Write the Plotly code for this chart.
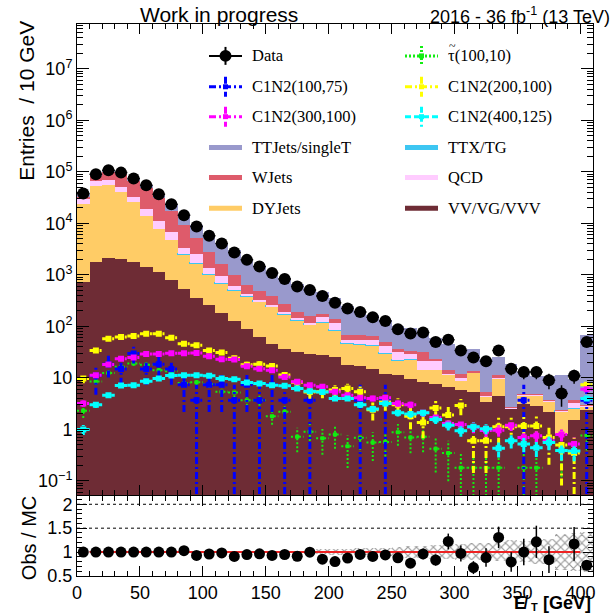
import numpy as np
import plotly.graph_objects as go

# ---------------------------------------------------------------- binning
met_centers = list(range(5, 410, 10))          # 10 GeV bins, 0-410 GeV
bin_half = 5

# ---------------------------------------------------------------- observed data
data_obs = [37800, 89500, 107000, 96600, 73900, 54800, 36700, 23500, 14400, 8710,
            5730, 4050, 2710, 1955, 1450, 1089, 833, 597, 506, 390,
            289, 222, 191, 151, 127, 88, 73, 76, 50, 55,
            34, 25, 21, 34, 15, 13, 13, 9, 5, 11, 50]

# ---------------------------------------------------------------- background yields per process
bkg_vv = [718, 1750, 2120, 2030, 1750, 1442, 1122, 797, 534, 352,
          262, 183, 130, 90, 62, 46, 36.9, 31.8, 29.5, 27.4,
          25.4, 17.5, 17.0, 14.7, 12.1, 11.2, 9.5, 8.5, 7.5, 6.6,
          5.8, 5.3, 3.4, 4.5, 2.5, 3.1, 2.8, 2.2, 0.8, 1.5, 2.4]
bkg_dy = [22800, 51400, 53500, 38700, 23700, 12560, 6610, 3900, 1900, 1274,
          734, 484, 365, 290, 238, 194, 133, 98, 77.5, 90.6,
          57.6, 27.5, 27, 27.3, 16.9, 9.8, 12.5, 5.5, 6.5, 4.6,
          2.8, 7.0, 1.0, 4.9, 0.05, 1.5, 1.8, 1.3, 1.4, 1.0, 0.3]
bkg_ttx = [50, 100, 120, 130, 130, 120, 110, 90, 60, 44,
           34, 23, 15, 10, 8, 6, 4, 4, 3, 4,
           3, 2, 2, 2, 1.5, 1, 1, 0.5, 0.5, 0.3,
           0.2, 0.2, 0.05, 0.2, 0.05, 0.05, 0.05, 0.05, 0.05, 0.05, 0.1]
bkg_qcd = [5850, 13200, 12780, 9970, 7570, 4680, 3360, 2060, 780, 870,
           310, 249, 109, 37, 17, 12, 18, 14, 4, 28,
           28, 7, 9, 11, 10.5, 10, 6.5, 6.5, 6.5, 0.3,
           1.2, 0.3, 0.05, 0.4, 0.05, 0.05, 0.05, 0.05, 0.05, 0.65, 0.1]
bkg_wjets = [3700, 18600, 33500, 40200, 34900, 29700, 19800, 10650, 6000, 2660,
             1470, 687, 377, 223, 170, 132, 76, 41, 46, 22,
             26, 13, 13, 9, 9, 4, 4.5, 11, 2, 2.2,
             2.1, 0.7, 0.9, 1.2, 0.05, 0.1, 0.1, 0.1, 0.1, 0.5, 0.1]
bkg_tt = [4700, 4500, 5000, 5600, 5900, 6300, 5700, 6000, 4700, 4170,
          3160, 2499, 1984, 1414, 1010, 781, 609, 465, 347, 286,
          220, 187, 133, 102, 85, 64, 61, 47, 37, 31,
          22.9, 23.5, 18.3, 14.8, 16.2, 8.2, 5.9, 7.0, 8.8, 5.7, 66]

# relative MC statistical uncertainty (hatched band in the ratio)
mc_rel_unc = [0.01] * 8 + [0.015] * 5 + [0.02] * 5 + [
    0.04, 0.05, 0.06, 0.06, 0.07, 0.07, 0.08, 0.10, 0.12, 0.13, 0.14, 0.15,
    0.17, 0.18, 0.18, 0.20, 0.24, 0.22, 0.25, 0.26, 0.38, 0.40, 0.42]

# ---------------------------------------------------------------- signal yields
sig_stau_100_10 = [2.3, 8.5, 12.5, 16.5, 19, 18, 14, 13.4, 8, 8.2,
                   7.6, 5.4, 5.2, 3.7, 3.7, 1.8, 2.2, 0.72, 0.9, 0.67,
                   0.8, 0.47, 0.69, 0.56, 0.57, 0.88, 0.7, 0.72, 0.42, 0.35,
                   0.18, 0.18, 0.18, 0.18, 0, 0.18, 0.18, 0, 0.38, 0, 0.76]
sig_c1n2_100_75 = [0, 11.1, 18.5, 14.8, 29.6, 14.8, 18.5, 14.8, 7.4, 3.7,
                   7.4, 7.4, 3.7, 7.4, 3.7, 7.4, 3.7, 0, 3.7, 0,
                   0, 0, 3.7, 0, 3.7, 0, 0, 0, 0, 0,
                   0, 0, 0, 0, 0, 3.7, 0, 0, 0, 0, 3.7]
sig_c1n2_200_100 = [9.7, 34, 57.5, 62, 65, 72, 72, 60, 46, 43,
                    34, 31, 24, 18, 18.5, 17, 11.4, 8.2, 5.3, 5.4,
                    5.8, 6.2, 5.4, 2.4, 3.4, 3.0, 1.8, 1.36, 2.6, 1.9,
                    2.9, 0.6, 0.6, 1.13, 1.13, 1.16, 1.17, 0.7, 0.5, 0.35, 7.4]
sig_c1n2_300_100 = [3.2, 11.2, 18.2, 23.6, 25, 29, 29, 30, 30, 30.4,
                    26.3, 23, 22.8, 16.8, 15, 14, 10.4, 8.4, 7.2, 6.7,
                    5.4, 4.6, 4.1, 4.0, 4.1, 3.2, 3.0, 2.1, 1.7, 1.3,
                    1.25, 1.1, 0.95, 0.96, 1.2, 0.7, 0.75, 0.6, 0.8, 0.52, 6.0]
sig_c1n2_400_125 = [1.0, 3.0, 4.6, 7.1, 7.2, 8.6, 9.7, 11.1, 11.2, 11.2,
                    11.0, 9.7, 9.4, 8.1, 7.8, 7.2, 7.0, 6.2, 5.5, 5.3,
                    4.0, 4.0, 3.0, 2.5, 3.2, 2.1, 2.0, 2.1, 1.55, 1.2,
                    0.94, 1.13, 1.03, 0.43, 0.6, 0.52, 0.44, 0.56, 0.39, 0.38, 4.0]

# per-event weight of each signal sample (for the MC statistical error)
sig_event_weight = {"stau": 0.18, "c1n2_100_75": 3.7, "c1n2_200_100": 0.35,
                    "c1n2_300_100": 0.06, "c1n2_400_125": 0.05}

# ---------------------------------------------------------------- colours
COL_VV, COL_DY, COL_TTX = "#6E2C35", "#FFCC66", "#3DC6F2"
COL_QCD, COL_WJ, COL_TT = "#FFCCFF", "#DE5B6B", "#9999CC"
COL_STAU, COL_BLUE, COL_YEL = "#11EE11", "#0000FF", "#FFFF00"
COL_MAG, COL_CYAN = "#FF00FF", "#00FFFF"

SANS = "Liberation Sans, Arial, Helvetica, sans-serif"
SERIF = "Liberation Serif, Times New Roman, serif"

fig = go.Figure()

# ---------------------------------------------------------------- stacked backgrounds
stack = [(bkg_vv, COL_VV), (bkg_dy, COL_DY), (bkg_ttx, COL_TTX),
         (bkg_qcd, COL_QCD), (bkg_wjets, COL_WJ), (bkg_tt, COL_TT)]
for vals, col in stack:
    line = dict(width=1, color=col) if col == COL_TTX else dict(width=0)
    fig.add_trace(go.Bar(x=met_centers, y=vals, width=2 * bin_half,
                         marker=dict(color=col, line=line),
                         xaxis="x", yaxis="y", hoverinfo="skip"))

# ---------------------------------------------------------------- signal points with error crosses
def error_crosses(vals, w):
    xs, ys = [], []
    for c, v in zip(met_centers, vals):
        if v <= 0:
            continue
        e = np.sqrt(v * w)
        lo = max(v - e, 1e-3)
        xs += [c - bin_half, c + bin_half, None, c, c, None]
        ys += [v, v, None, lo, v + e, None]
    return xs, ys

DASHDOT = "7px,3px,2px,3px"
signals = [
    (sig_stau_100_10, "stau", COL_STAU, "2px,2px", 2, "square", 4),
    (sig_c1n2_100_75, "c1n2_100_75", COL_BLUE, DASHDOT, 3, "square", 6),
    (sig_c1n2_200_100, "c1n2_200_100", COL_YEL, DASHDOT, 3, "square", 6),
    (sig_c1n2_300_100, "c1n2_300_100", COL_MAG, DASHDOT, 3, "square", 6),
    (sig_c1n2_400_125, "c1n2_400_125", COL_CYAN, "6px,3px", 3, "square", 6),
]
for vals, key, col, dash, lw, sym, msize in signals:
    xs, ys = error_crosses(vals, sig_event_weight[key])
    fig.add_trace(go.Scatter(x=xs, y=ys, mode="lines", connectgaps=False,
                             line=dict(color=col, width=lw, dash=dash),
                             xaxis="x", yaxis="y", hoverinfo="skip"))
    px_ = [c for c, v in zip(met_centers, vals) if v > 0]
    py_ = [v for v in vals if v > 0]
    fig.add_trace(go.Scatter(x=px_, y=py_, mode="markers",
                             marker=dict(symbol=sym, size=msize, color=col),
                             xaxis="x", yaxis="y", hoverinfo="skip"))

# ---------------------------------------------------------------- data
data_arr = np.array(data_obs, dtype=float)
fig.add_trace(go.Scatter(
    x=met_centers, y=data_obs, mode="markers",
    marker=dict(color="black", size=12),
    error_y=dict(type="data", array=np.sqrt(data_arr), color="black", thickness=1.5, width=0),
    error_x=dict(type="constant", value=bin_half, color="black", thickness=1.5, width=0),
    xaxis="x", yaxis="y", hoverinfo="skip"))

# ---------------------------------------------------------------- ratio panel
mc_total = sum(np.array(v, dtype=float) for v, _ in stack)
ratio = data_arr / mc_total
ratio_err = np.sqrt(data_arr) / mc_total
R_MIN, R_MAX = 0.5, 2.167
in_range = (ratio >= R_MIN) & (ratio <= R_MAX)

unc = np.array(mc_rel_unc)
fig.add_trace(go.Bar(x=met_centers, y=2 * unc, base=1 - unc, width=2 * bin_half,
                     marker=dict(color="rgba(0,0,0,0)", line=dict(width=0),
                                 pattern=dict(shape="x", fgcolor="#333333",
                                              bgcolor="rgba(0,0,0,0)", size=6, solidity=0.35)),
                     xaxis="x2", yaxis="y2", hoverinfo="skip"))
fig.add_trace(go.Scatter(x=[10, 400], y=[1, 1], mode="lines",
                         line=dict(color="#EE2222", width=2),
                         xaxis="x2", yaxis="y2", hoverinfo="skip"))
fig.add_trace(go.Scatter(
    x=[c for c, ok in zip(met_centers, in_range) if ok],
    y=ratio[in_range], mode="markers",
    marker=dict(color="black", size=11),
    error_y=dict(type="data", array=ratio_err[in_range], color="black", thickness=1.5, width=0),
    xaxis="x2", yaxis="y2", hoverinfo="skip"))

# ---------------------------------------------------------------- axes
L, R, T, B = 77, 20, 24, 37
W, H = 613, 615
PW, PH = W - L - R, H - T - B


def fx(px):
    return (px - L) / PW


def fy(py):
    return (H - B - py) / PH


log_major = [0.1, 1, 10, 1e2, 1e3, 1e4, 1e5, 1e6, 1e7]
log_text = ["10<sup>\u22121</sup>", "1", "10", "10<sup>2</sup>", "10<sup>3</sup>",
            "10<sup>4</sup>", "10<sup>5</sup>", "10<sup>6</sup>", "10<sup>7</sup>"]
log_minor = [k * 10.0 ** e for e in range(-2, 8) for k in range(2, 10)]

tickfont = dict(family=SANS, size=18, color="black")
frame = dict(showline=True, linecolor="black", linewidth=1, mirror="allticks",
             showgrid=False, zeroline=False, tickcolor="black")

fig.update_layout(
    width=W, height=H, margin=dict(l=L, r=R, t=T, b=B, pad=0),
    paper_bgcolor="white", plot_bgcolor="white",
    barmode="stack", bargap=0, showlegend=False,
    xaxis=dict(domain=[0, 1], anchor="y", range=[0, 410], tick0=0, dtick=50,
               ticks="inside", ticklen=10, showticklabels=False,
               minor=dict(ticks="inside", ticklen=5, dtick=10, tickcolor="black"),
               **frame),
    yaxis=dict(domain=[fy(497), 1], anchor="x", type="log", range=[-1.279, 7.870],
               tickmode="array", tickvals=log_major, ticktext=log_text,
               ticks="inside", ticklen=12, tickfont=tickfont,
               minor=dict(ticks="inside", ticklen=6, tickmode="array",
                          tickvals=log_minor, tickcolor="black"),
               **frame),
    xaxis2=dict(domain=[0, 1], anchor="y2", range=[0, 410], tick0=0, dtick=50,
                ticks="inside", ticklen=10, tickfont=tickfont,
                minor=dict(ticks="inside", ticklen=5, dtick=10, tickcolor="black"),
                **frame),
    yaxis2=dict(domain=[0, fy(498)], anchor="x2", range=[R_MIN, R_MAX],
                tickmode="array", tickvals=[0.5, 1, 1.5, 2], ticktext=["0.5", "1", "1.5", "2"],
                ticks="inside", ticklen=10, tickfont=tickfont,
                minor=dict(ticks="inside", ticklen=5, dtick=0.1, tickcolor="black"),
                **frame),
)

shapes = []
annotations = []

# dotted reference lines in the ratio panel
for lvl in (1.5, 2.0):
    shapes.append(dict(type="line", xref="x2", yref="y2", x0=0, x1=410, y0=lvl, y1=lvl,
                       line=dict(color="black", width=1, dash="dot"), layer="below"))


# ---------------------------------------------------------------- legend (two columns)
def seg(x0, y0, x1, y1, color, width, dash="solid"):
    shapes.append(dict(type="line", xref="paper", yref="paper",
                       x0=fx(x0), y0=fy(y0), x1=fx(x1), y1=fy(y1),
                       line=dict(color=color, width=width, dash=dash)))


def label(text, x, y, size=16.5, family=SERIF, xanchor="left", **kw):
    annotations.append(dict(text=text, xref="paper", yref="paper", x=fx(x), y=fy(y),
                            xanchor=xanchor, yanchor="middle", showarrow=False,
                            font=dict(family=family, size=size, color="black"), **kw))


rows = [56, 87, 117, 148, 178, 209]
cols = [(209, 242, 250), (405, 438, 446)]

legend_entries = [
    [("Data", "data", "black", None),
     ("C1N2(100,75)", "sig", COL_BLUE, DASHDOT),
     ("C1N2(300,100)", "sig", COL_MAG, DASHDOT),
     ("TTJets/singleT", "fill", COL_TT, None),
     ("WJets", "fill", COL_WJ, None),
     ("DYJets", "fill", COL_DY, None)],
    [("\u03c4(100,10)", "sig", COL_STAU, "2px,2px"),
     ("C1N2(200,100)", "sig", COL_YEL, DASHDOT),
     ("C1N2(400,125)", "sig", COL_CYAN, "6px,3px"),
     ("TTX/TG", "fill", COL_TTX, None),
     ("QCD", "fill", COL_QCD, None),
     ("VV/VG/VVV", "fill", COL_VV, None)],
]

for (x0, x1, xt), entries in zip(cols, legend_entries):
    xm = 0.5 * (x0 + x1)
    for y, (text, kind, col, dash) in zip(rows, entries):
        if kind == "fill":
            seg(x0, y, x1, y, col, 5)
        elif kind == "data":
            seg(x0, y, x1, y, "black", 2)
            seg(xm, y - 9, xm, y + 9, "black", 2)
            shapes.append(dict(type="circle", xref="paper", yref="paper",
                               x0=fx(xm - 6), x1=fx(xm + 6), y0=fy(y + 6), y1=fy(y - 6),
                               fillcolor="black", line=dict(color="black", width=0)))
        else:
            seg(x0, y, x1, y, col, 3, dash)
            seg(xm, y - 10, xm, y + 10, col, 3, dash)
            shapes.append(dict(type="rect", xref="paper", yref="paper",
                               x0=fx(xm - 2.5), x1=fx(xm + 2.5), y0=fy(y + 2.5), y1=fy(y - 2.5),
                               fillcolor=col, line=dict(color=col, width=0)))
        label(text, xt, y)

# tilde accent over the stau symbol (sits just above the glyph)
label("~", 446.5, 46, size=12)

# ---------------------------------------------------------------- titles
label("Work in progress", 219, 14, size=21, family=SANS, xanchor="center")
label("2016 - 36 fb<sup>-1</sup> (13 TeV)", 612, 15, size=18, family=SANS, xanchor="right")
label("Entries  / 10 GeV", 27, 101, size=21, family=SANS, xanchor="center", textangle=-90)
label("Obs / MC", 29, 540, size=20, family=SANS, xanchor="center", textangle=-90)
# missing-transverse-energy axis title, built from three pieces so it fits the bottom margin
label("<b>[GeV]</b>", 593, 605, size=18, family=SANS, xanchor="right")
label("<b>T</b>", 540, 609, size=11, family=SANS, xanchor="right")
label("<b>E\u0338</b>", 531, 605, size=18, family=SANS, xanchor="right")

fig.update_layout(shapes=shapes, annotations=annotations)

fig.write_html("out.html")
